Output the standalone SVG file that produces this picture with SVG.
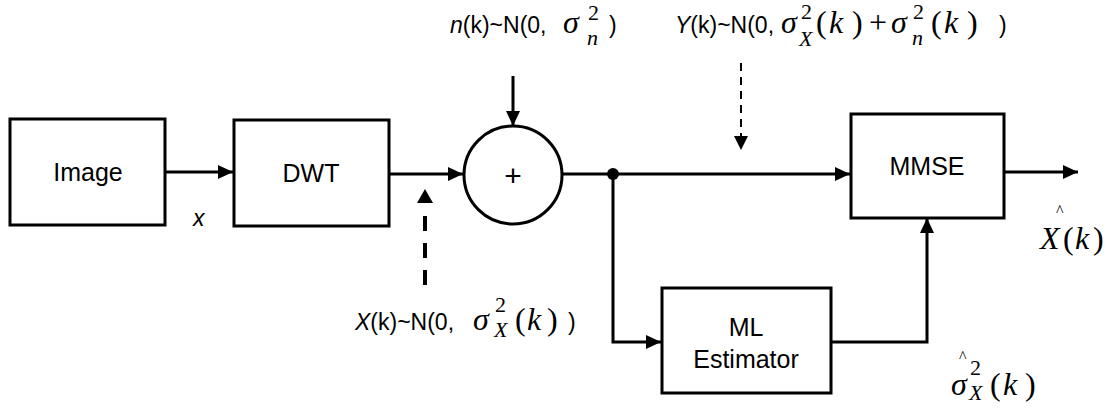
<svg xmlns="http://www.w3.org/2000/svg" width="1113" height="408" viewBox="0 0 1113 408">
<style>
.box{fill:#fff;stroke:#000;stroke-width:3}
.ln{fill:none;stroke:#000;stroke-width:3}
.s{font-family:"Liberation Sans",Arial,sans-serif;font-size:23px;fill:#000}
.lbl{font-family:"Liberation Sans",Arial,sans-serif;font-size:25px;fill:#000;text-anchor:middle}
.m{font-family:"Liberation Serif","Times New Roman",serif;font-size:32px;font-style:normal}
.mi{font-family:"Liberation Serif","Times New Roman",serif;font-size:32px;font-style:italic}
.sc{font-family:"Liberation Serif","Times New Roman",serif;font-size:22px;font-style:normal}
.sci{font-family:"Liberation Serif","Times New Roman",serif;font-size:22px;font-style:italic}
.hat{font-family:"Liberation Serif","Times New Roman",serif;font-size:16px;fill:#000}
.it{font-style:italic}
</style>
<defs>
<marker id="ah" markerUnits="userSpaceOnUse" markerWidth="16" markerHeight="14" refX="15" refY="7" orient="auto">
<polygon points="0,0 15,7 0,14" fill="#000"/>
</marker>
</defs>
<rect width="1113" height="408" fill="#fff"/>
<g id="connectors">
<line class="ln" x1="165" y1="172" x2="233" y2="172" marker-end="url(#ah)"/>
<line class="ln" x1="389" y1="174" x2="463" y2="174" marker-end="url(#ah)"/>
<line class="ln" x1="513" y1="76" x2="513" y2="126" marker-end="url(#ah)"/>
<line class="ln" x1="562" y1="174" x2="850" y2="174" marker-end="url(#ah)"/>
<polyline class="ln" points="613,174 613,342 661,342" marker-end="url(#ah)"/>
<polyline class="ln" points="831,342 927,342 927,218" marker-end="url(#ah)"/>
<line class="ln" x1="1004" y1="172" x2="1078" y2="172" marker-end="url(#ah)"/>
<circle cx="613" cy="174" r="6" fill="#000"/>
<line x1="741" y1="63" x2="741" y2="137" stroke="#000" stroke-width="2" stroke-dasharray="8,6"/>
<polygon points="734,136 748,136 741,150" fill="#000"/>
<line x1="425" y1="285" x2="425" y2="215" stroke="#000" stroke-width="4" stroke-dasharray="15,12"/>
<polygon points="417,203 433,203 425,189" fill="#000"/>
</g>
<g id="image">
<rect class="box" x="10" y="119" width="155" height="106"/>
<text class="lbl" x="88" y="181">Image</text>
</g>
<g id="dwt">
<rect class="box" x="234" y="120" width="155" height="106"/>
<text class="lbl" x="311" y="182">DWT</text>
</g>
<g id="adder">
<circle class="box" cx="513" cy="175" r="49"/>
<text class="lbl" x="513" y="186" style="font-size:30px">+</text>
</g>
<g id="mmse">
<rect class="box" x="851" y="114" width="153" height="104"/>
<text class="lbl" x="927" y="175">MMSE</text>
</g>
<g id="ml">
<rect class="box" x="662" y="288" width="169" height="105"/>
<text class="lbl" x="746" y="336">ML</text>
<text class="lbl" x="746" y="368">Estimator</text>
</g>
<g id="labels">
<text class="s it" x="193" y="226">x</text>
<text class="s" x="450" y="33"><tspan class="it">n</tspan>(k)~N(0,<tspan class="mi" x="563" y="33">σ</tspan><tspan class="sc" x="588" y="20">2</tspan><tspan class="sci" x="587" y="45">n</tspan><tspan x="609" y="33">)</tspan></text>
<text class="s" x="675" y="33"><tspan class="it">Y</tspan>(k)~N(0,<tspan class="mi" x="781" y="33">σ</tspan><tspan class="sc" x="801" y="19">2</tspan><tspan class="sci" x="799" y="46">X</tspan><tspan class="m" x="816" y="33">(</tspan><tspan class="mi" x="829" y="33">k</tspan><tspan class="m" x="852" y="33">)</tspan><tspan class="m" x="869" y="33">+</tspan><tspan class="mi" x="891" y="33">σ</tspan><tspan class="sc" x="913" y="19">2</tspan><tspan class="sci" x="912" y="45">n</tspan><tspan class="m" x="931" y="33">(</tspan><tspan class="mi" x="944" y="33">k</tspan><tspan class="m" x="967" y="33">)</tspan><tspan x="999" y="33">)</tspan></text>
<text class="s" x="355" y="330"><tspan class="it">X</tspan>(k)~N(0,<tspan class="mi" x="473" y="330">σ</tspan><tspan class="sc" x="495" y="312">2</tspan><tspan class="sci" x="494" y="337">X</tspan><tspan class="m" x="515" y="330">(</tspan><tspan class="mi" x="527" y="330">k</tspan><tspan class="m" x="547" y="330">)</tspan><tspan x="568" y="330">)</tspan></text>
<text class="hat" x="1056" y="216">^</text>
<text class="m" x="1040" y="249"><tspan class="mi">X</tspan><tspan x="1063">(</tspan><tspan class="mi" x="1075">k</tspan><tspan x="1093">)</tspan></text>
<text class="hat" x="959" y="362">^</text>
<text class="mi" x="951" y="395">σ<tspan class="sc" x="970" y="375">2</tspan><tspan class="sci" x="969" y="400">X</tspan><tspan class="m" x="990" y="395">(</tspan><tspan class="mi" x="1003" y="395">k</tspan><tspan class="m" x="1025" y="395">)</tspan></text>
</g>
</svg>
